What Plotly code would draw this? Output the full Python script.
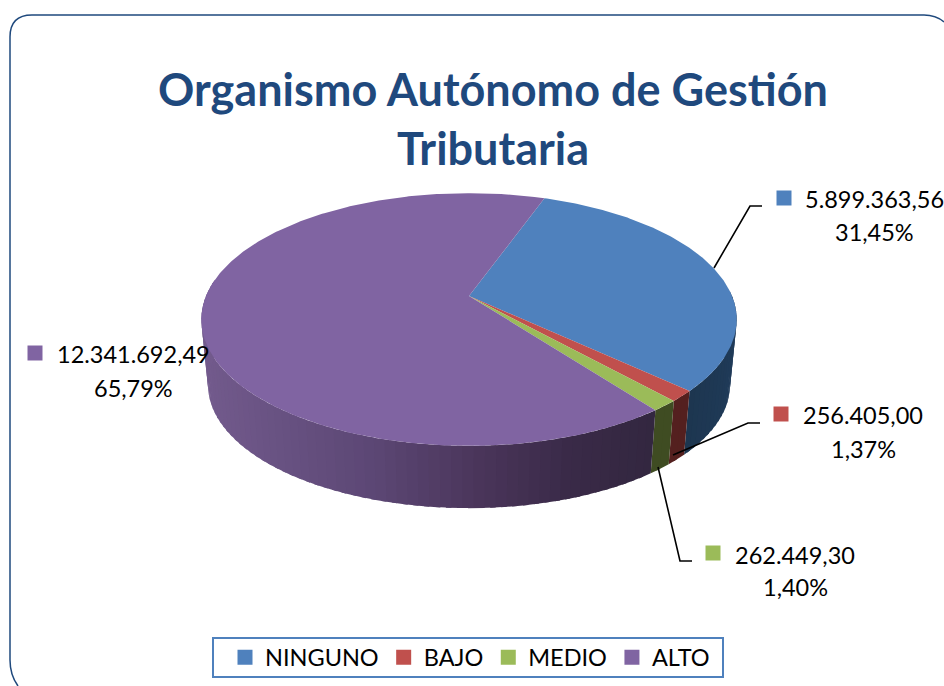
import math
import plotly.graph_objects as go

# ---- data
categories = ["NINGUNO", "BAJO", "MEDIO", "ALTO"]
values = [5899363.56, 256405.00, 262449.30, 12341692.49]
value_labels = ["5.899.363,56", "256.405,00", "262.449,30", "12.341.692,49"]
percent_labels = ["31,45%", "1,37%", "1,40%", "65,79%"]
top_colors = ["#4f81bd", "#c0504d", "#9bbb59", "#8064a2"]
title_lines = ["Organismo Autónomo de Gestión", "Tributaria"]

# ---- style / layout
W, H = 944, 686
FONT = "Lato"
START = 19.7       # degrees clockwise from the back
CX, CY = 469, 296
RX, BY, K = 263, 122, 0.186
DEPTH_Y, DEPTH_S = 66, 0.975
wall_dark = {"NINGUNO": ((0x22, 0x3f, 0x60), (0x1d, 0x36, 0x50)),
             "BAJO": ((0x54, 0x20, 0x1f), (0x54, 0x20, 0x1f)),
             "MEDIO": ((0x3f, 0x4c, 0x22), (0x3f, 0x4c, 0x22))}


def proj(deg, bottom=False):
    a = math.radians(deg)
    u, v = math.sin(a), -math.cos(a)
    d = 1 - K * v
    s = DEPTH_S if bottom else 1
    oy = DEPTH_Y if bottom else 0
    return CX + s * RX * u / d, CY + oy + s * BY * v / d


def lerp(c1, c2, t):
    return "rgb(%d,%d,%d)" % tuple(round(a + (b - a) * t) for a, b in zip(c1, c2))


def purple_wall(x):
    stops = [(205, (0x72, 0x5a, 0x8c)), (370, (0x5c, 0x47, 0x75)),
             (480, (0x4a, 0x35, 0x5a)), (570, (0x3a, 0x2a, 0x48)), (650, (0x33, 0x27, 0x40))]
    for (x0, c0), (x1, c1) in zip(stops, stops[1:]):
        if x <= x1:
            return lerp(c0, c1, max(0, (x - x0) / (x1 - x0)))
    return lerp(stops[-1][1], stops[-1][1], 0)


fig = go.Figure()
total = sum(values)
spans = []
ang = START
for name, val in zip(categories, values):
    spans.append((name, ang, ang + val / total * 360))
    ang += val / total * 360


def add_poly(xs, ys, color):
    fig.add_trace(go.Scatter(x=xs, y=ys, mode="lines", fill="toself", fillcolor=color,
                             line=dict(color=color, width=0), hoverinfo="skip",
                             showlegend=False))


# side walls, only the part that faces the viewer
VIS0, VIS1 = 88, 278
for name, a0, a1 in spans:
    lo, hi = max(a0, VIS0), min(a1, VIS1)
    n = max(1, int((hi - lo) / 2))
    for i in range(n):
        b0 = lo + (hi - lo) * i / n
        b1 = min(hi, lo + (hi - lo) * (i + 1) / n + 1.0)   # overlap hides seams
        bm = lo + (hi - lo) * (i + 0.5) / n
        arc = [b0 + (b1 - b0) * j / 3 for j in range(4)]
        p = [proj(b) for b in arc] + [proj(b, True) for b in reversed(arc)]
        if name == "ALTO":
            col = purple_wall(proj(bm)[0])
        else:
            c1, c2 = wall_dark[name]
            col = lerp(c1, c2, (i + 0.5) / n)
        add_poly([q[0] for q in p], [q[1] for q in p], col)

# top faces
for (name, a0, a1), col in zip(spans, top_colors):
    n = max(2, int((a1 - a0) * 1.5))
    pts = [proj(a0 + (a1 - a0) * i / n) for i in range(n + 1)]
    add_poly([CX] + [q[0] for q in pts], [CY] + [q[1] for q in pts], col)

# leader lines
leaders = [([714, 750, 762], [268, 206, 206]),
           ([673, 748, 760], [455, 423, 423]),
           ([658, 680, 692], [467, 561, 561])]
for xs, ys in leaders:
    fig.add_trace(go.Scatter(x=xs, y=ys, mode="lines", line=dict(color="black", width=1.6),
                             hoverinfo="skip", showlegend=False))

# data-label keys and text
label_pos = [(784, 198, 874, 199, 232), (781, 414, 863, 415, 449),
             (713, 553, 795, 555, 587), (35, 353, 133, 354, 388)]
annotations = []
for (mx, my, tx, y1, y2), col, vl, pl in zip(label_pos, top_colors, value_labels, percent_labels):
    fig.add_trace(go.Scatter(x=[mx], y=[my], mode="markers", hoverinfo="skip", showlegend=False,
                             marker=dict(symbol="square", size=15, color=col)))
    for txt, yy in ((vl, y1), (pl, y2)):
        annotations.append(dict(x=tx, y=yy, xref="x", yref="y", text=txt, showarrow=False,
                                xanchor="center", yanchor="middle",
                                font=dict(family=FONT, size=23.5, color="black")))

# legend entries
for name, col in zip(categories, top_colors):
    fig.add_trace(go.Scatter(x=[None], y=[None], mode="markers", name=name, hoverinfo="skip",
                             marker=dict(symbol="square", size=15, color=col)))

frame = "M 18 686 Q 10 675 10 660 L 10 37 Q 10 15 32 15 L 924 15 Q 936 15 944 22"

fig.update_layout(
    width=W, height=H, autosize=False,
    margin=dict(l=0, r=0, t=0, b=0),
    paper_bgcolor="white", plot_bgcolor="white",
    xaxis=dict(range=[0, W], visible=False, fixedrange=True),
    yaxis=dict(range=[H, 0], visible=False, fixedrange=True),
    title=dict(text="<br>".join(title_lines), x=493 / W, xanchor="center", xref="paper",
               y=1 - 106 / H, yanchor="middle", yref="container",
               font=dict(family=FONT, size=45, color="#1f497d", weight=700)),
    legend=dict(orientation="h", x=470 / W, xanchor="center", y=1 - 657.5 / H, yanchor="middle",
                bgcolor="rgba(0,0,0,0)", borderwidth=0,
                font=dict(family=FONT, size=23.5, color="black"), itemwidth=30,
                itemsizing="trace", traceorder="normal"),
    shapes=[dict(type="path", path=frame, xref="x", yref="y",
                 line=dict(color="#1f497d", width=1.5), layer="below"),
            dict(type="rect", x0=213, x1=723, y0=638, y1=677, xref="x", yref="y",
                 line=dict(color="#4f81bd", width=2), fillcolor="white", layer="below")],
    annotations=annotations,
    showlegend=True,
)
fig.write_html("out.html", config={"displayModeBar": False},
               post_script="document.body.style.margin='0';document.documentElement.style.overflow='hidden';")
